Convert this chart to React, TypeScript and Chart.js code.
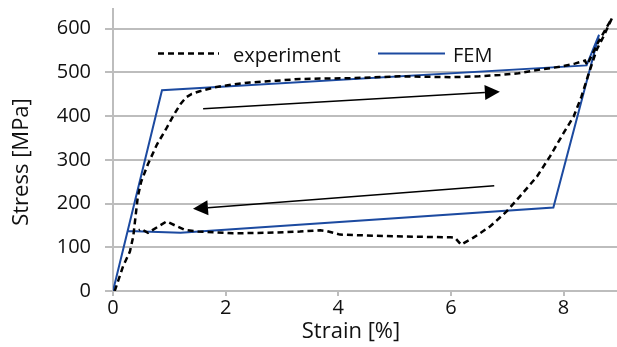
import React, { useEffect, useRef } from 'react';
import { Chart, registerables } from 'chart.js';

Chart.register(...registerables);

// ---- data ----
const expStrain = [
  0.03, 0.18, 0.3, 0.36, 0.4, 0.44, 0.5, 0.62, 0.78, 0.94, 1.08, 1.2, 1.3, 1.4, 1.54, 1.81, 2.1, 2.43, 2.9, 3.32, 3.8, 4.3, 5.1, 5.6, 6.0, 6.5, 6.87, 7.2, 7.46, 7.94, 8.2, 8.38, 8.42, 8.62, 8.86,
  8.71, 8.59, 8.44, 8.32, 8.18, 8.0, 7.76, 7.53, 7.23, 6.99, 6.7, 6.4, 6.18, 6.07, 5.99, 5.39, 4.5, 4.03, 3.8, 3.68, 3.32, 2.7, 2.13, 1.51, 1.27, 0.95, 0.62, 0.5, 0.46,
];
const expStress = [
  0, 57, 90, 125, 170, 215, 250, 290, 335, 370, 403, 428, 443, 451, 457, 466, 472, 477, 481, 485, 486, 487, 491, 490, 489, 491, 494, 498, 504, 513, 520, 527, 517, 570, 624,
  582, 552, 494, 445, 399, 361, 308, 262, 217, 182, 148, 122, 106, 122, 123, 124, 127, 129, 137, 139, 136, 133, 132, 136, 140, 159, 133, 142, 139,
];
const femStrain = [0, 0.87, 8.41, 8.63, 7.82, 1.2, 0.27];
const femStress = [0, 459, 516, 586, 191, 133, 137];

const seriesNames = ['experiment', 'FEM'];
const xTitle = 'Strain [%]';
const yTitle = 'Stress [MPa]';
const xTicks = [0, 2, 4, 6, 8];
const yTicks = [0, 100, 200, 300, 400, 500, 600];
const xMin = 0;
const xMax = 8.95;
const yMin = 0;
const yMax = 645;

// arrows: [fromStrain, fromStress, toStrain, toStress]
const arrowLoading = [1.6, 417, 6.87, 456];
const arrowUnloading = [6.77, 241, 1.42, 188];

const FONT = '"Open Sans", sans-serif';
const BLUE = '#1c4aa0';
const GRID = '#bdbdbd';
const TEXT = '#111111';

const overlayPlugin = {
  id: 'overlay',
  afterDraw(chart: any) {
    const { ctx, scales } = chart;
    const xs = scales.x;
    const ys = scales.y;
    ctx.save();
    // arrows
    const drawArrow = (a: number[]) => {
      const x0 = xs.getPixelForValue(a[0]);
      const y0 = ys.getPixelForValue(a[1]);
      const x1 = xs.getPixelForValue(a[2]);
      const y1 = ys.getPixelForValue(a[3]);
      const ang = Math.atan2(y1 - y0, x1 - x0);
      const headL = 15;
      const headW = 7.5;
      const bx = x1 - Math.cos(ang) * headL;
      const by = y1 - Math.sin(ang) * headL;
      ctx.strokeStyle = '#000';
      ctx.fillStyle = '#000';
      ctx.lineWidth = 1.5;
      ctx.setLineDash([]);
      ctx.beginPath();
      ctx.moveTo(x0, y0);
      ctx.lineTo(bx, by);
      ctx.stroke();
      ctx.beginPath();
      ctx.moveTo(x1, y1);
      ctx.lineTo(bx - Math.sin(ang) * headW, by + Math.cos(ang) * headW);
      ctx.lineTo(bx + Math.sin(ang) * headW, by - Math.cos(ang) * headW);
      ctx.closePath();
      ctx.fill();
    };
    drawArrow(arrowLoading);
    drawArrow(arrowUnloading);

    // legend
    ctx.lineWidth = 2.5;
    ctx.strokeStyle = '#000';
    ctx.setLineDash([6, 4]);
    ctx.beginPath();
    ctx.moveTo(158, 53.5);
    ctx.lineTo(219, 53.5);
    ctx.stroke();
    ctx.setLineDash([]);
    ctx.lineWidth = 2;
    ctx.strokeStyle = BLUE;
    ctx.beginPath();
    ctx.moveTo(378, 53.5);
    ctx.lineTo(445, 53.5);
    ctx.stroke();
    ctx.fillStyle = TEXT;
    ctx.font = `20px ${FONT}`;
    ctx.textAlign = 'left';
    ctx.textBaseline = 'alphabetic';
    ctx.fillText(seriesNames[0], 233, 62);
    ctx.fillText(seriesNames[1], 453, 62);

    // axis titles
    ctx.font = `22px ${FONT}`;
    ctx.textAlign = 'center';
    ctx.fillText(xTitle, 351, 338);
    ctx.translate(28, 162);
    ctx.rotate(-Math.PI / 2);
    ctx.fillText(yTitle, 0, 0);
    ctx.restore();
  },
};

export default function App() {
  const ref = useRef<HTMLCanvasElement | null>(null);
  useEffect(() => {
    if (!ref.current) return;
    const chart = new Chart(ref.current, {
      type: 'scatter',
      data: {
        datasets: [
          {
            label: seriesNames[0],
            data: expStrain.map((v, i) => ({ x: v, y: expStress[i] })),
            showLine: true,
            borderColor: '#000',
            borderWidth: 2.5,
            borderDash: [6, 4],
            pointRadius: 0,
            fill: false,
            tension: 0,
          },
          {
            label: seriesNames[1],
            data: femStrain.map((v, i) => ({ x: v, y: femStress[i] })),
            showLine: true,
            borderColor: BLUE,
            borderWidth: 2,
            pointRadius: 0,
            fill: false,
            tension: 0,
          },
        ],
      },
      plugins: [overlayPlugin],
      options: {
        animation: false,
        responsive: false,
        layout: { padding: { top: 9, right: 0, left: 0, bottom: 0 } },
        plugins: { legend: { display: false }, tooltip: { enabled: false } },
        scales: {
          x: {
            type: 'linear',
            min: xMin,
            max: xMax,
            afterBuildTicks: (s: any) => {
              s.ticks = xTicks.map((v) => ({ value: v }));
            },
            afterFit: (s: any) => {
              s.height = 56;
              s.paddingLeft = 0;
              s.paddingRight = 0;
            },
            ticks: { color: TEXT, font: { family: FONT, size: 20 }, padding: 0, maxRotation: 0, autoSkip: false },
            grid: { drawOnChartArea: false, drawTicks: true, tickLength: 5, color: GRID, lineWidth: 2 },
            border: { display: true, color: GRID, width: 2 },
          },
          y: {
            type: 'linear',
            min: yMin,
            max: yMax,
            afterBuildTicks: (s: any) => {
              s.ticks = yTicks.map((v) => ({ value: v }));
            },
            afterFit: (s: any) => {
              s.width = 113;
              s.paddingTop = 0;
              s.paddingBottom = 0;
            },
            ticks: { color: TEXT, font: { family: FONT, size: 20 }, padding: 14, autoSkip: false },
            grid: { display: true, drawOnChartArea: true, color: GRID, lineWidth: 2, tickLength: 8 },
            border: { display: true, color: GRID, width: 2 },
          },
        },
      },
    });
    return () => chart.destroy();
  }, []);
  return (
    <div style={{ position: 'absolute', left: 0, top: 0, width: 617, height: 347, background: '#fff' }}>
      <canvas ref={ref} width={617} height={347} style={{ display: 'block' }} />
    </div>
  );
}
